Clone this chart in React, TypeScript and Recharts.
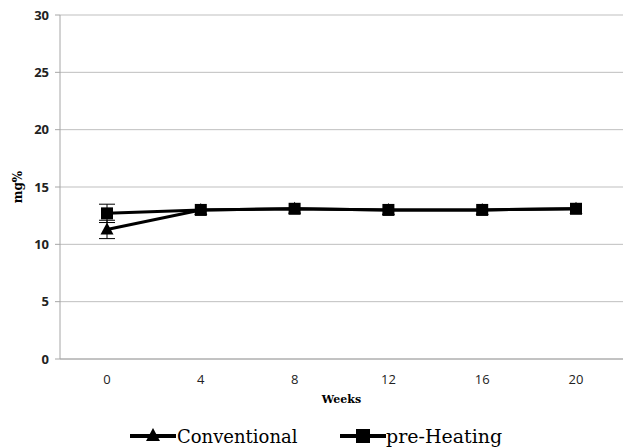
import React from 'react';
import { LineChart, Line, XAxis, YAxis, CartesianGrid, Legend, ErrorBar, Label } from 'recharts';

const weeks = ['0', '4', '8', '12', '16', '20'];
const conventional = [11.3, 13.0, 13.1, 13.0, 13.0, 13.1];
const conventionalErr = [0.8, null, null, null, null, null];
const preHeating = [12.7, 13.0, 13.1, 13.0, 13.0, 13.1];
const preHeatingErr = [0.8, null, null, null, null, null];
const yTicks = [0, 5, 10, 15, 20, 25, 30];

const data = weeks.map((w, i) => ({
  week: w,
  conventional: conventional[i],
  conventionalErr: conventionalErr[i],
  preHeating: preHeating[i],
  preHeatingErr: preHeatingErr[i],
}));

const serif = "'DejaVu Serif', serif";

const Triangle = (props: any) => {
  const { cx, cy } = props;
  if (cx == null || cy == null) return null;
  return <path d={`M${cx},${cy - 7} L${cx + 6.5},${cy + 5} L${cx - 6.5},${cy + 5} Z`} fill="#000" />;
};

const Square = (props: any) => {
  const { cx, cy } = props;
  if (cx == null || cy == null) return null;
  return <rect x={cx - 6} y={cy - 6} width={12} height={12} fill="#000" />;
};

const LegendContent = () => (
  <svg width={626} height={30} style={{ display: 'block' }}>
    <line x1={130} y1={19} x2={176} y2={19} stroke="#000" strokeWidth={4} />
    <path d="M153,11 L160,24 L146,24 Z" fill="#000" />
    <text x={177} y={26} style={{ fontFamily: serif, fontSize: 18 }} fill="#000">Conventional</text>
    <line x1={340} y1={19} x2={386} y2={19} stroke="#000" strokeWidth={4} />
    <rect x={356} y={12} width={14} height={14} fill="#000" />
    <text x={386} y={26} style={{ fontFamily: serif, fontSize: 19 }} fill="#000">pre-Heating</text>
  </svg>
);

export default function App() {
  return (
    <div style={{ position: 'absolute', left: 0, top: 0, background: '#fff' }}>
      <LineChart width={626} height={447} data={data} margin={{ top: 15, right: 3, left: 0, bottom: 0 }}>
        <CartesianGrid vertical={false} stroke="#bfbfbf" />
        <XAxis
          dataKey="week"
          tickLine={false}
          axisLine={{ stroke: '#a6a6a6' }}
          padding={{ left: 47, right: 47 }}
          tick={{ fill: '#222', fontSize: 13, fontFamily: '"Open Sans", Arial, sans-serif' }}
          height={58}
          tickMargin={10}
        >
          <Label value="Weeks" position="insideBottom" offset={14} style={{ fontFamily: serif, fontWeight: 'bold', fontSize: 11, fill: '#000' }} />
        </XAxis>
        <YAxis
          domain={[0, 30]}
          ticks={yTicks}
          width={60}
          tickLine={{ stroke: '#a6a6a6' }}
          tickSize={5}
          axisLine={{ stroke: '#a6a6a6' }}
          tick={{ fill: '#222', fontSize: 13, fontWeight: 'bold', fontFamily: '"Open Sans", Arial, sans-serif', dx: -4 }}
        >
          <Label value="mg%" angle={-90} position="insideLeft" offset={18} style={{ fontFamily: serif, fontWeight: 'bold', fontSize: 12, fill: '#000', textAnchor: 'middle' }} />
        </YAxis>
        <Legend verticalAlign="bottom" height={30} content={<LegendContent />} />
        <Line dataKey="conventional" stroke="#000" strokeWidth={3} dot={<Triangle />} activeDot={false} isAnimationActive={false}>
          <ErrorBar dataKey="conventionalErr" width={8} stroke="#000" strokeWidth={1} />
        </Line>
        <Line dataKey="preHeating" stroke="#000" strokeWidth={3} dot={<Square />} activeDot={false} isAnimationActive={false}>
          <ErrorBar dataKey="preHeatingErr" width={8} stroke="#000" strokeWidth={1} />
        </Line>
      </LineChart>
    </div>
  );
}
